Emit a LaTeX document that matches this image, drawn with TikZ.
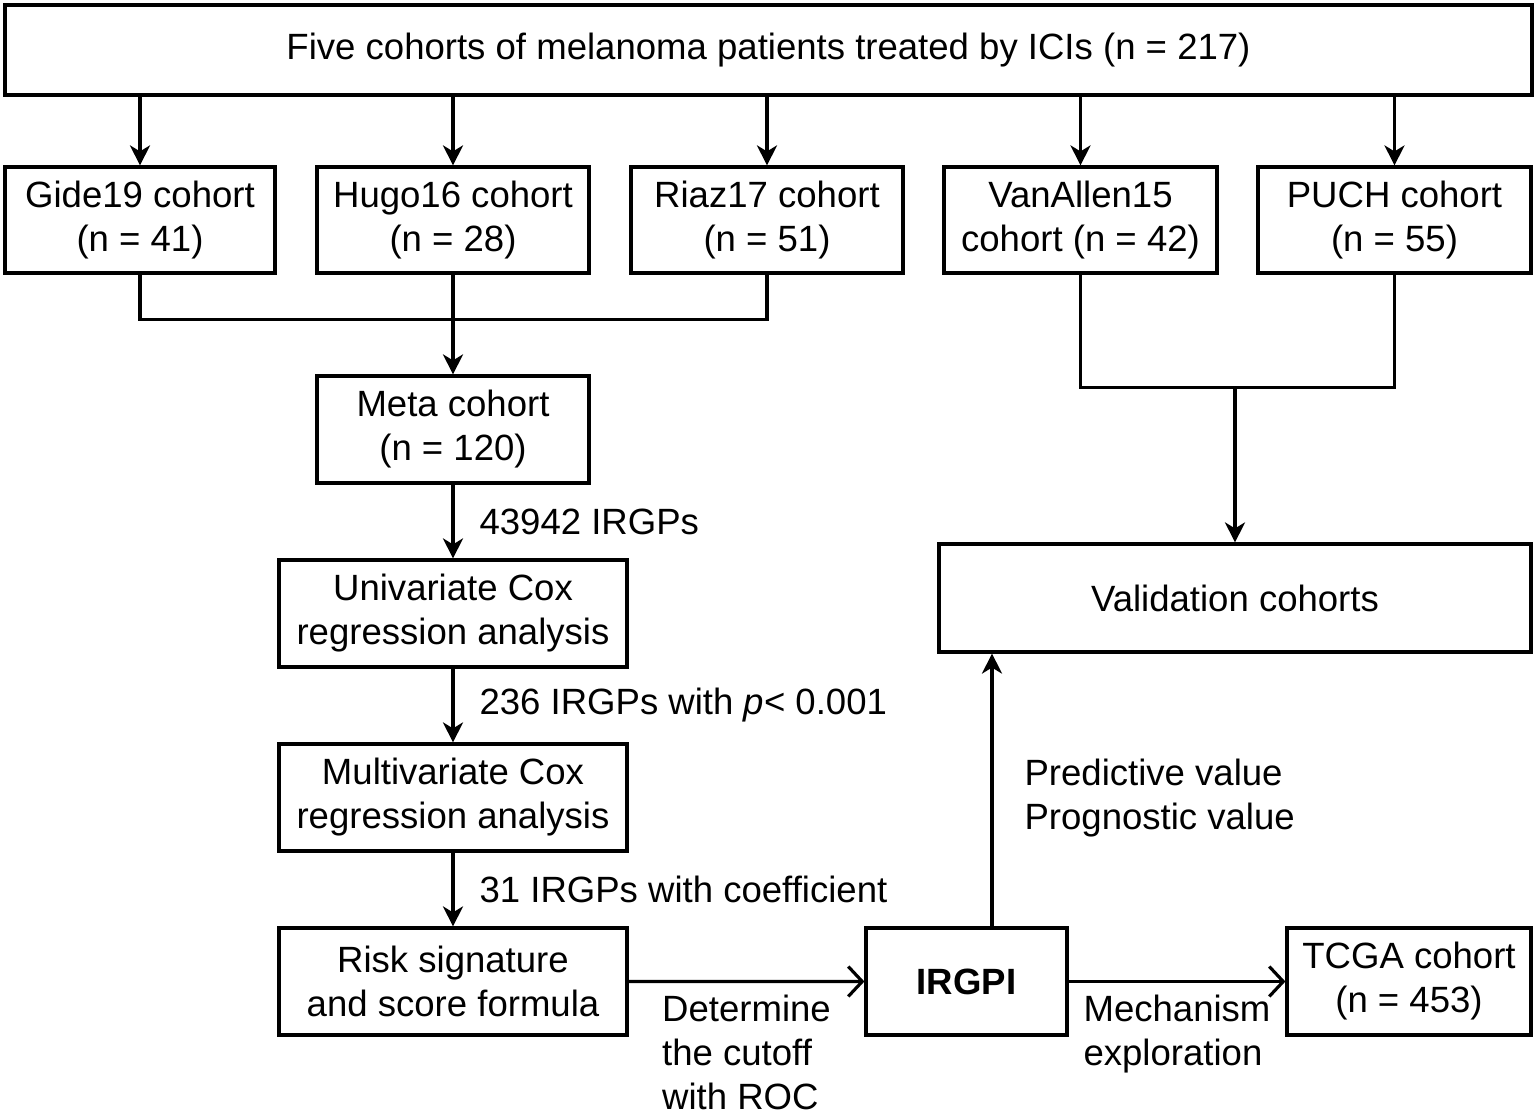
\documentclass[tikz,border=0pt]{standalone}
\usepackage{fontspec}
\setmainfont{Liberation Sans}
\usepackage{tikz}
\usetikzlibrary{shapes.geometric, arrows, arrows.meta}
\tikzstyle{box} = [rectangle, 
draw=black, 
line width=0.9pt, 
align=center, 
inner sep=0pt, 
minimum height=1.06cm]
\tikzstyle{cohort} = [box, minimum width=2.72cm]
\tikzstyle{analysis} = [box, minimum width=3.48cm, minimum height=1.07cm]
\tikzstyle{line} = [line width=0.9pt]
\tikzstyle{arrow} = [line width=0.9pt,-{Stealth[length=2mm,width=2mm,inset=0.6mm]}]
\tikzstyle{harrow} = [line width=0.9pt,-{Straight Barb[length=1.4mm,width=3mm]}]
\tikzstyle{note} = [align=left, inner sep=0pt]

\begin{document}
\begin{tikzpicture}[node distance=1.84cm, font=\fontsize{10.4}{12.5}\selectfont]
\useasboundingbox (0,0) rectangle (15.35,-11.12);

% Nodes
\node (all) [box, minimum width=15.27cm, minimum height=0.90cm] at (7.685,-0.50) {Five cohorts of melanoma patients treated by ICIs (n = 217)};
\node (gide) [cohort, minimum width=2.70cm] at (1.40,-2.20) {Gide19 cohort\\(n = 41)};
\node (hugo) [cohort] at (4.53,-2.20) {Hugo16 cohort\\(n = 28)};
\node (riaz) [cohort] at (7.67,-2.20) {Riaz17 cohort\\(n = 51)};
\node (vanallen) [cohort, minimum width=2.73cm] at (10.805,-2.20) {VanAllen15\\cohort (n = 42)};
\node (puch) [cohort, minimum width=2.73cm] at (13.945,-2.20) {PUCH cohort\\(n = 55)};

\node (meta) [cohort, minimum height=1.07cm] at (4.53,-4.295) {Meta cohort\\(n = 120)};
\node (univ) [analysis, below of=meta] {Univariate Cox\\regression analysis};
\node (multi) [analysis, below of=univ] {Multivariate Cox\\regression analysis};
\node (risk) [analysis, below of=multi] {Risk signature\\and score formula};
\node (irgpi) [box, minimum width=2.01cm, minimum height=1.07cm, font=\fontsize{10.4}{12.5}\selectfont\bfseries] at (9.665,-9.815) {IRGPI};
\node (tcga) [box, minimum width=2.44cm, minimum height=1.07cm] at (14.09,-9.815) {TCGA cohort\\(n = 453)};
\node (valid) [box, minimum width=5.92cm, minimum height=1.08cm] at (12.35,-5.98) {Validation cohorts};

% Arrows
\draw [arrow] (all.south -| gide) -- (gide);
\draw [arrow] (all.south -| hugo) -- (hugo);
\draw [arrow] (all.south -| riaz) -- (riaz);
\draw [arrow] (all.south -| vanallen) -- (vanallen);
\draw [arrow] (all.south -| puch) -- (puch);

\draw [line] (gide.south) -- ++(0,-0.45) -| (riaz.south);
\draw [arrow] (hugo) -- (meta);
\draw [line] (vanallen.south) -- ++(0,-1.13) coordinate (vl) -| (puch.south);
\coordinate (vjoin) at (valid.north |- vl);
\draw [arrow] (vjoin) -- (valid);

\draw [arrow] (meta) -- node[note, anchor=west, xshift=0.25cm] {43942 IRGPs} (univ);
\draw [arrow] (univ) -- node[note, anchor=west, xshift=0.25cm] {236 IRGPs with \textit{p}< 0.001} (multi);
\draw [arrow] (multi) -- node[note, anchor=west, xshift=0.25cm] {31 IRGPs with coefficient} (risk);
\draw [harrow] (risk) -- node[note, anchor=north, yshift=-0.12cm] {Determine\\the cutoff\\with ROC} (irgpi);
\draw [harrow] (irgpi) -- node[note, anchor=north, yshift=-0.12cm] {Mechanism\\exploration} (tcga);
\coordinate (irtop) at ([xshift=0.255cm]irgpi.north);
\draw [arrow] (irtop) -- node[note, anchor=west, xshift=0.31cm, yshift=-0.08cm] {Predictive value\\Prognostic value} (irtop |- valid.south);

\end{tikzpicture}
\end{document}
